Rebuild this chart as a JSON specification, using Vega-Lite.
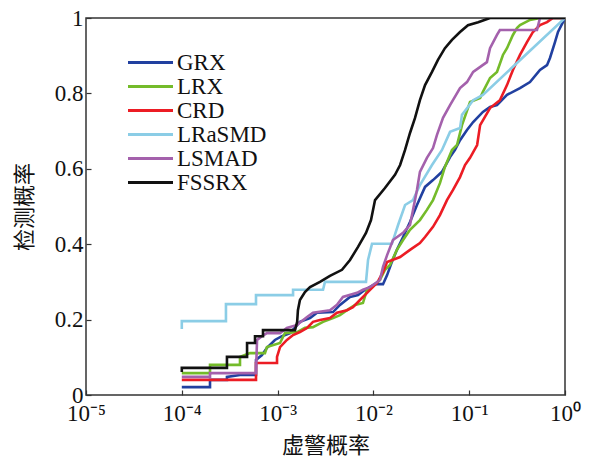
{
  "$schema": "https://vega.github.io/schema/vega-lite/v6.json",
  "width": 479,
  "height": 377,
  "autosize": "none",
  "padding": {"left": 86, "top": 18, "right": 25, "bottom": 62},
  "background": "white",
  "config": {
    "view": {"stroke": "#333", "strokeWidth": 1.5},
    "font": "Liberation Serif",
    "axis": {"grid": false, "domain": false, "tickColor": "#333", "tickWidth": 1.2, "labelColor": "#111", "titleColor": "#111", "labelFont": "Liberation Serif", "labelFontSize": 23, "titleFont": "Noto Sans CJK SC", "titleFontSize": 22, "titleFontWeight": "normal"}
  },
  "data": {"values": [
    {"m":"GRX","fpr":1e-4,"pd":0.021},{"m":"GRX","fpr":1.97e-4,"pd":0.021},{"m":"GRX","fpr":1.97e-4,"pd":0.040},{"m":"GRX","fpr":2.96e-4,"pd":0.040},{"m":"GRX","fpr":2.96e-4,"pd":0.048},{"m":"GRX","fpr":4.05e-4,"pd":0.053},{"m":"GRX","fpr":5.95e-4,"pd":0.053},{"m":"GRX","fpr":5.95e-4,"pd":0.093},{"m":"GRX","fpr":6.87e-4,"pd":0.106},{"m":"GRX","fpr":7.74e-4,"pd":0.125},{"m":"GRX","fpr":9.38e-4,"pd":0.146},{"m":"GRX","fpr":1.11e-3,"pd":0.156},{"m":"GRX","fpr":1.35e-3,"pd":0.164},{"m":"GRX","fpr":1.71e-3,"pd":0.194},{"m":"GRX","fpr":2.18e-3,"pd":0.204},{"m":"GRX","fpr":2.58e-3,"pd":0.218},{"m":"GRX","fpr":3.79e-3,"pd":0.220},{"m":"GRX","fpr":4.48e-3,"pd":0.239},{"m":"GRX","fpr":5.70e-3,"pd":0.260},{"m":"GRX","fpr":6.91e-3,"pd":0.265},{"m":"GRX","fpr":8.17e-3,"pd":0.279},{"m":"GRX","fpr":1.04e-2,"pd":0.294},{"m":"GRX","fpr":1.26e-2,"pd":0.294},{"m":"GRX","fpr":1.39e-2,"pd":0.318},{"m":"GRX","fpr":1.56e-2,"pd":0.353},{"m":"GRX","fpr":1.76e-2,"pd":0.385},{"m":"GRX","fpr":2.04e-2,"pd":0.419},{"m":"GRX","fpr":2.41e-2,"pd":0.459},{"m":"GRX","fpr":2.85e-2,"pd":0.504},{"m":"GRX","fpr":3.46e-2,"pd":0.552},{"m":"GRX","fpr":4.19e-2,"pd":0.570},{"m":"GRX","fpr":5.20e-2,"pd":0.592},{"m":"GRX","fpr":6.31e-2,"pd":0.631},{"m":"GRX","fpr":7.11e-2,"pd":0.650},{"m":"GRX","fpr":8.02e-2,"pd":0.676},{"m":"GRX","fpr":9.48e-2,"pd":0.703},{"m":"GRX","fpr":0.110,"pd":0.724},{"m":"GRX","fpr":0.139,"pd":0.751},{"m":"GRX","fpr":0.165,"pd":0.764},{"m":"GRX","fpr":0.195,"pd":0.769},{"m":"GRX","fpr":0.248,"pd":0.796},{"m":"GRX","fpr":0.339,"pd":0.814},{"m":"GRX","fpr":0.431,"pd":0.830},{"m":"GRX","fpr":0.548,"pd":0.862},{"m":"GRX","fpr":0.649,"pd":0.875},{"m":"GRX","fpr":0.697,"pd":0.894},{"m":"GRX","fpr":0.786,"pd":0.936},{"m":"GRX","fpr":0.845,"pd":0.963},{"m":"GRX","fpr":1,"pd":1},
    {"m":"LRX","fpr":1e-4,"pd":0.058},{"m":"LRX","fpr":1.97e-4,"pd":0.058},{"m":"LRX","fpr":1.97e-4,"pd":0.080},{"m":"LRX","fpr":4.05e-4,"pd":0.080},{"m":"LRX","fpr":4.05e-4,"pd":0.101},{"m":"LRX","fpr":5.15e-4,"pd":0.111},{"m":"LRX","fpr":7.38e-4,"pd":0.111},{"m":"LRX","fpr":7.74e-4,"pd":0.127},{"m":"LRX","fpr":1.06e-3,"pd":0.138},{"m":"LRX","fpr":1.19e-3,"pd":0.164},{"m":"LRX","fpr":1.60e-3,"pd":0.167},{"m":"LRX","fpr":1.93e-3,"pd":0.178},{"m":"LRX","fpr":2.34e-3,"pd":0.180},{"m":"LRX","fpr":2.98e-3,"pd":0.194},{"m":"LRX","fpr":3.79e-3,"pd":0.204},{"m":"LRX","fpr":4.48e-3,"pd":0.212},{"m":"LRX","fpr":5.30e-3,"pd":0.225},{"m":"LRX","fpr":6.43e-3,"pd":0.239},{"m":"LRX","fpr":7.78e-3,"pd":0.244},{"m":"LRX","fpr":8.57e-3,"pd":0.279},{"m":"LRX","fpr":9.67e-3,"pd":0.286},{"m":"LRX","fpr":1.17e-2,"pd":0.305},{"m":"LRX","fpr":1.32e-2,"pd":0.332},{"m":"LRX","fpr":1.49e-2,"pd":0.345},{"m":"LRX","fpr":1.76e-2,"pd":0.385},{"m":"LRX","fpr":2.04e-2,"pd":0.411},{"m":"LRX","fpr":2.41e-2,"pd":0.438},{"m":"LRX","fpr":3.06e-2,"pd":0.464},{"m":"LRX","fpr":3.62e-2,"pd":0.491},{"m":"LRX","fpr":4.19e-2,"pd":0.517},{"m":"LRX","fpr":4.95e-2,"pd":0.562},{"m":"LRX","fpr":5.58e-2,"pd":0.605},{"m":"LRX","fpr":6.61e-2,"pd":0.650},{"m":"LRX","fpr":7.46e-2,"pd":0.663},{"m":"LRX","fpr":8.41e-2,"pd":0.716},{"m":"LRX","fpr":0.102,"pd":0.777},{"m":"LRX","fpr":0.130,"pd":0.788},{"m":"LRX","fpr":0.139,"pd":0.804},{"m":"LRX","fpr":0.165,"pd":0.841},{"m":"LRX","fpr":0.195,"pd":0.857},{"m":"LRX","fpr":0.225,"pd":0.902},{"m":"LRX","fpr":0.248,"pd":0.920},{"m":"LRX","fpr":0.286,"pd":0.955},{"m":"LRX","fpr":0.315,"pd":0.973},{"m":"LRX","fpr":0.339,"pd":0.981},{"m":"LRX","fpr":0.431,"pd":0.995},{"m":"LRX","fpr":0.548,"pd":1},{"m":"LRX","fpr":1,"pd":1},
    {"m":"CRD","fpr":1e-4,"pd":0.040},{"m":"CRD","fpr":5.95e-4,"pd":0.040},{"m":"CRD","fpr":5.95e-4,"pd":0.085},{"m":"CRD","fpr":9.86e-4,"pd":0.085},{"m":"CRD","fpr":9.86e-4,"pd":0.101},{"m":"CRD","fpr":1.06e-3,"pd":0.127},{"m":"CRD","fpr":1.25e-3,"pd":0.146},{"m":"CRD","fpr":1.45e-3,"pd":0.159},{"m":"CRD","fpr":1.71e-3,"pd":0.167},{"m":"CRD","fpr":2.03e-3,"pd":0.178},{"m":"CRD","fpr":2.34e-3,"pd":0.194},{"m":"CRD","fpr":2.77e-3,"pd":0.199},{"m":"CRD","fpr":3.52e-3,"pd":0.204},{"m":"CRD","fpr":4.17e-3,"pd":0.218},{"m":"CRD","fpr":5.30e-3,"pd":0.225},{"m":"CRD","fpr":6.12e-3,"pd":0.233},{"m":"CRD","fpr":7.24e-3,"pd":0.252},{"m":"CRD","fpr":9.22e-3,"pd":0.279},{"m":"CRD","fpr":1.09e-2,"pd":0.297},{"m":"CRD","fpr":1.26e-2,"pd":0.326},{"m":"CRD","fpr":1.39e-2,"pd":0.353},{"m":"CRD","fpr":1.90e-2,"pd":0.366},{"m":"CRD","fpr":2.41e-2,"pd":0.385},{"m":"CRD","fpr":3.06e-2,"pd":0.403},{"m":"CRD","fpr":3.46e-2,"pd":0.419},{"m":"CRD","fpr":4.19e-2,"pd":0.446},{"m":"CRD","fpr":4.95e-2,"pd":0.477},{"m":"CRD","fpr":5.86e-2,"pd":0.517},{"m":"CRD","fpr":6.78e-2,"pd":0.544},{"m":"CRD","fpr":8.02e-2,"pd":0.578},{"m":"CRD","fpr":9.04e-2,"pd":0.610},{"m":"CRD","fpr":0.102,"pd":0.629},{"m":"CRD","fpr":0.121,"pd":0.663},{"m":"CRD","fpr":0.130,"pd":0.716},{"m":"CRD","fpr":0.165,"pd":0.761},{"m":"CRD","fpr":0.209,"pd":0.782},{"m":"CRD","fpr":0.248,"pd":0.822},{"m":"CRD","fpr":0.286,"pd":0.862},{"m":"CRD","fpr":0.339,"pd":0.902},{"m":"CRD","fpr":0.401,"pd":0.936},{"m":"CRD","fpr":0.463,"pd":0.963},{"m":"CRD","fpr":0.548,"pd":0.981},{"m":"CRD","fpr":0.649,"pd":0.989},{"m":"CRD","fpr":0.748,"pd":1},{"m":"CRD","fpr":1,"pd":1},
    {"m":"LRaSMD","fpr":1e-4,"pd":0.175},{"m":"LRaSMD","fpr":1e-4,"pd":0.196},{"m":"LRaSMD","fpr":2.89e-4,"pd":0.196},{"m":"LRaSMD","fpr":2.89e-4,"pd":0.241},{"m":"LRaSMD","fpr":5.95e-4,"pd":0.241},{"m":"LRaSMD","fpr":5.95e-4,"pd":0.265},{"m":"LRaSMD","fpr":1.45e-3,"pd":0.265},{"m":"LRaSMD","fpr":1.45e-3,"pd":0.279},{"m":"LRaSMD","fpr":2.98e-3,"pd":0.279},{"m":"LRaSMD","fpr":3.12e-3,"pd":0.300},{"m":"LRaSMD","fpr":8.37e-3,"pd":0.300},{"m":"LRaSMD","fpr":8.79e-3,"pd":0.358},{"m":"LRaSMD","fpr":9.67e-3,"pd":0.401},{"m":"LRaSMD","fpr":1.56e-2,"pd":0.401},{"m":"LRaSMD","fpr":1.81e-2,"pd":0.451},{"m":"LRaSMD","fpr":2.14e-2,"pd":0.504},{"m":"LRaSMD","fpr":2.59e-2,"pd":0.517},{"m":"LRaSMD","fpr":3.06e-2,"pd":0.557},{"m":"LRaSMD","fpr":4.09e-2,"pd":0.610},{"m":"LRaSMD","fpr":5.20e-2,"pd":0.650},{"m":"LRaSMD","fpr":6.31e-2,"pd":0.698},{"m":"LRaSMD","fpr":8.02e-2,"pd":0.708},{"m":"LRaSMD","fpr":8.41e-2,"pd":0.743},{"m":"LRaSMD","fpr":0.110,"pd":0.782},{"m":"LRaSMD","fpr":0.139,"pd":0.796},{"m":"LRaSMD","fpr":1,"pd":1},
    {"m":"LSMAD","fpr":1e-4,"pd":0.048},{"m":"LSMAD","fpr":1.97e-4,"pd":0.048},{"m":"LSMAD","fpr":1.97e-4,"pd":0.058},{"m":"LSMAD","fpr":5.95e-4,"pd":0.058},{"m":"LSMAD","fpr":6.10e-4,"pd":0.146},{"m":"LSMAD","fpr":6.87e-4,"pd":0.156},{"m":"LSMAD","fpr":7.74e-4,"pd":0.164},{"m":"LSMAD","fpr":1.06e-3,"pd":0.164},{"m":"LSMAD","fpr":1.25e-3,"pd":0.178},{"m":"LSMAD","fpr":1.60e-3,"pd":0.186},{"m":"LSMAD","fpr":2.03e-3,"pd":0.207},{"m":"LSMAD","fpr":2.34e-3,"pd":0.218},{"m":"LSMAD","fpr":3.52e-3,"pd":0.225},{"m":"LSMAD","fpr":4.17e-3,"pd":0.239},{"m":"LSMAD","fpr":4.81e-3,"pd":0.260},{"m":"LSMAD","fpr":6.74e-3,"pd":0.271},{"m":"LSMAD","fpr":7.78e-3,"pd":0.279},{"m":"LSMAD","fpr":9.22e-3,"pd":0.286},{"m":"LSMAD","fpr":1.17e-2,"pd":0.305},{"m":"LSMAD","fpr":1.26e-2,"pd":0.340},{"m":"LSMAD","fpr":1.39e-2,"pd":0.371},{"m":"LSMAD","fpr":1.60e-2,"pd":0.411},{"m":"LSMAD","fpr":2.04e-2,"pd":0.430},{"m":"LSMAD","fpr":2.41e-2,"pd":0.451},{"m":"LSMAD","fpr":2.59e-2,"pd":0.491},{"m":"LSMAD","fpr":2.85e-2,"pd":0.544},{"m":"LSMAD","fpr":3.06e-2,"pd":0.592},{"m":"LSMAD","fpr":3.62e-2,"pd":0.629},{"m":"LSMAD","fpr":4.19e-2,"pd":0.655},{"m":"LSMAD","fpr":4.61e-2,"pd":0.690},{"m":"LSMAD","fpr":5.33e-2,"pd":0.735},{"m":"LSMAD","fpr":6.31e-2,"pd":0.769},{"m":"LSMAD","fpr":8.02e-2,"pd":0.814},{"m":"LSMAD","fpr":9.48e-2,"pd":0.830},{"m":"LSMAD","fpr":0.110,"pd":0.857},{"m":"LSMAD","fpr":0.153,"pd":0.883},{"m":"LSMAD","fpr":0.165,"pd":0.920},{"m":"LSMAD","fpr":0.195,"pd":0.955},{"m":"LSMAD","fpr":0.209,"pd":0.968},{"m":"LSMAD","fpr":0.510,"pd":0.968},{"m":"LSMAD","fpr":0.548,"pd":1},{"m":"LSMAD","fpr":1,"pd":1},
    {"m":"FSSRX","fpr":1e-4,"pd":0.061},{"m":"FSSRX","fpr":1e-4,"pd":0.072},{"m":"FSSRX","fpr":2.96e-4,"pd":0.072},{"m":"FSSRX","fpr":2.96e-4,"pd":0.101},{"m":"FSSRX","fpr":4.80e-4,"pd":0.101},{"m":"FSSRX","fpr":4.80e-4,"pd":0.138},{"m":"FSSRX","fpr":5.81e-4,"pd":0.138},{"m":"FSSRX","fpr":5.81e-4,"pd":0.156},{"m":"FSSRX","fpr":7.04e-4,"pd":0.156},{"m":"FSSRX","fpr":7.04e-4,"pd":0.172},{"m":"FSSRX","fpr":1.52e-3,"pd":0.172},{"m":"FSSRX","fpr":1.60e-3,"pd":0.194},{"m":"FSSRX","fpr":1.63e-3,"pd":0.225},{"m":"FSSRX","fpr":1.71e-3,"pd":0.252},{"m":"FSSRX","fpr":1.93e-3,"pd":0.273},{"m":"FSSRX","fpr":2.18e-3,"pd":0.286},{"m":"FSSRX","fpr":2.77e-3,"pd":0.300},{"m":"FSSRX","fpr":3.52e-3,"pd":0.316},{"m":"FSSRX","fpr":4.70e-3,"pd":0.332},{"m":"FSSRX","fpr":5.70e-3,"pd":0.358},{"m":"FSSRX","fpr":6.91e-3,"pd":0.393},{"m":"FSSRX","fpr":8.37e-3,"pd":0.430},{"m":"FSSRX","fpr":9.44e-3,"pd":0.464},{"m":"FSSRX","fpr":1.04e-2,"pd":0.517},{"m":"FSSRX","fpr":1.32e-2,"pd":0.549},{"m":"FSSRX","fpr":1.68e-2,"pd":0.584},{"m":"FSSRX","fpr":1.90e-2,"pd":0.610},{"m":"FSSRX","fpr":2.14e-2,"pd":0.650},{"m":"FSSRX","fpr":2.41e-2,"pd":0.695},{"m":"FSSRX","fpr":2.72e-2,"pd":0.735},{"m":"FSSRX","fpr":3.06e-2,"pd":0.782},{"m":"FSSRX","fpr":3.46e-2,"pd":0.822},{"m":"FSSRX","fpr":4.09e-2,"pd":0.857},{"m":"FSSRX","fpr":4.72e-2,"pd":0.889},{"m":"FSSRX","fpr":5.58e-2,"pd":0.920},{"m":"FSSRX","fpr":6.61e-2,"pd":0.942},{"m":"FSSRX","fpr":8.02e-2,"pd":0.963},{"m":"FSSRX","fpr":9.71e-2,"pd":0.981},{"m":"FSSRX","fpr":0.124,"pd":0.989},{"m":"FSSRX","fpr":0.165,"pd":1},{"m":"FSSRX","fpr":1,"pd":1}
  ]},
  "mark": {"type": "line", "strokeWidth": 2.6, "clip": true},
  "encoding": {
    "x": {
      "field": "fpr", "type": "quantitative",
      "scale": {"type": "log", "domain": [0.00001, 1]},
      "axis": {
        "values": [0.00001, 0.0001, 0.001, 0.01, 0.1, 1],
        "labelExpr": "'10' + ['⁻⁵','⁻⁴','⁻³','⁻²','⁻¹','⁰'][round(log(datum.value)/LN10) + 5]",
        "tickSize": -5, "labelPadding": 12, "labelFlush": false,
        "title": "虚警概率", "titlePadding": 10
      }
    },
    "y": {
      "field": "pd", "type": "quantitative",
      "scale": {"domain": [0, 1]},
      "axis": {
        "values": [0, 0.2, 0.4, 0.6, 0.8, 1],
        "format": "~g",
        "tickSize": -5, "labelPadding": 8, "labelFlush": false,
        "title": "检测概率", "titlePadding": 18
      }
    },
    "color": {
      "field": "m", "type": "nominal",
      "scale": {
        "domain": ["GRX", "LRX", "CRD", "LRaSMD", "LSMAD", "FSSRX"],
        "range": ["#2140a0", "#74bb2a", "#ec1c24", "#8bcde6", "#a461ac", "#111111"]
      },
      "legend": {
        "title": null, "orient": "none", "legendX": 53, "legendY": 33,
        "symbolType": "M-4.5,0H4.5", "symbolSize": 100, "symbolStrokeWidth": 3,
        "labelFont": "Liberation Serif", "labelFontSize": 23, "labelColor": "#111",
        "labelOffset": 15, "rowPadding": 0
      }
    },
    "order": {"value": null}
  }
}
